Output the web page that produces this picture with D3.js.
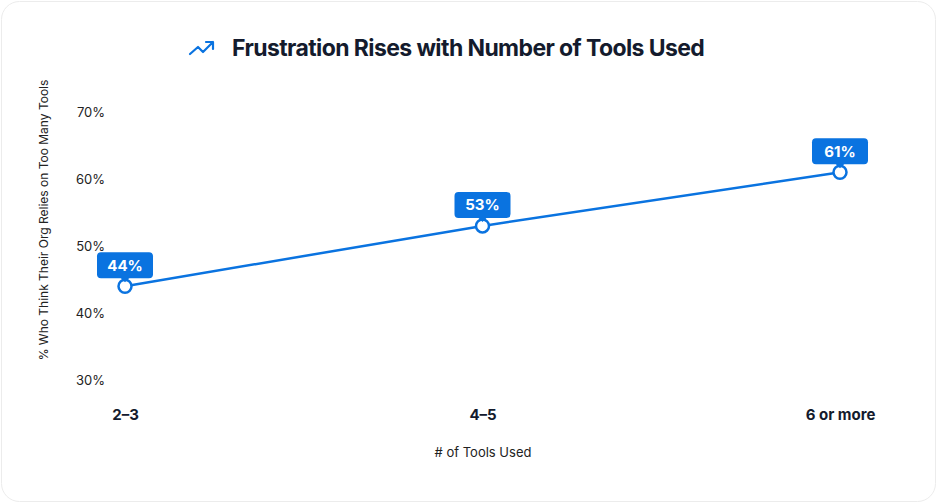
<!DOCTYPE html>
<html><head><meta charset="utf-8">
<script src="https://cdn.jsdelivr.net/npm/d3@7"></script>
<style>
body{margin:0;background:#fff;font-family:Inter,"Noto Sans",sans-serif;}
</style></head>
<body><div id="chart"></div>
<script>
// данные
const categories = ["2–3", "4–5", "6 or more"];
const values = [44, 53, 61];
const yTicks = [30, 40, 50, 60, 70];

const width = 937, height = 503;
const blue = "#0a73e0";

const svg = d3.select("#chart").append("svg")
  .attr("width", width).attr("height", height);

// карточка
svg.append("rect").attr("x", 1.5).attr("y", 1.5).attr("width", width - 3).attr("height", height - 3)
  .attr("rx", 18).attr("fill", "#fff").attr("stroke", "#ececec");

// заголовок
const title = svg.append("g").attr("transform", "translate(190,46)");
title.append("path").attr("d", "M0,8 L8,1 L13,6 L23,-4 M16,-4 L23,-4 L23,3")
  .attr("fill", "none").attr("stroke", blue).attr("stroke-width", 2.2)
  .attr("stroke-linecap", "round").attr("stroke-linejoin", "round");
title.append("text").attr("x", 42).attr("y", 10).attr("font-size", 23).attr("font-weight", 700)
  .attr("fill", "#141b2d").attr("letter-spacing", -0.6).text("Frustration Rises with Number of Tools Used");

// шкалы
const x = d3.scalePoint().domain(categories).range([125, 840]);
const y = d3.scaleLinear().domain([30, 70]).range([380, 112]);

// ось Y (только подписи)
svg.append("g").attr("transform", "translate(108,0)")
  .call(d3.axisLeft(y).tickValues(yTicks).tickFormat(d => d + "%").tickSize(0))
  .call(g => g.select(".domain").remove())
  .selectAll("text").attr("font-size", 13).attr("fill", "#222").attr("text-anchor", "end")
  .attr("font-family", "Inter,sans-serif");

// ось X
svg.append("g").attr("transform", "translate(0,413)")
  .call(d3.axisBottom(x).tickSize(0))
  .call(g => g.select(".domain").remove())
  .selectAll("text").attr("font-size", 15).attr("font-weight", 700).attr("fill", "#141b2d")
  .attr("dy", 0).attr("dominant-baseline", "middle").attr("font-family", "Inter,sans-serif");

svg.append("text").attr("x", 483).attr("y", 457).attr("text-anchor", "middle")
  .attr("font-size", 13).attr("fill", "#222").text("# of Tools Used");
svg.append("text").attr("transform", "translate(48,220) rotate(-90)").attr("text-anchor", "middle")
  .attr("font-size", 12).attr("fill", "#222").text("% Who Think Their Org Relies on Too Many Tools");

const data = categories.map((c, i) => ({ c, v: values[i] }));

// линия
svg.append("path").datum(data)
  .attr("d", d3.line().x(d => x(d.c)).y(d => y(d.v)).curve(d3.curveMonotoneX))
  .attr("fill", "none").attr("stroke", blue).attr("stroke-width", 2.5);

// точки
svg.selectAll(".pt").data(data).join("circle")
  .attr("cx", d => x(d.c)).attr("cy", d => y(d.v)).attr("r", 6.5)
  .attr("fill", "#fff").attr("stroke", blue).attr("stroke-width", 2.5);

// подписи
const lab = svg.selectAll(".lab").data(data).join("g")
  .attr("transform", d => `translate(${x(d.c)},${y(d.v) - 21})`);
lab.append("rect").attr("x", -28).attr("y", -13).attr("width", 56).attr("height", 26).attr("rx", 4)
  .attr("fill", blue);
lab.append("path").attr("d", "M-5,12 L0,17 L5,12Z").attr("fill", blue);
lab.append("text").attr("text-anchor", "middle").attr("dy", "0.36em")
  .attr("font-size", 15).attr("font-weight", 700).attr("fill", "#fff").text(d => d.v + "%");
</script></body></html>
